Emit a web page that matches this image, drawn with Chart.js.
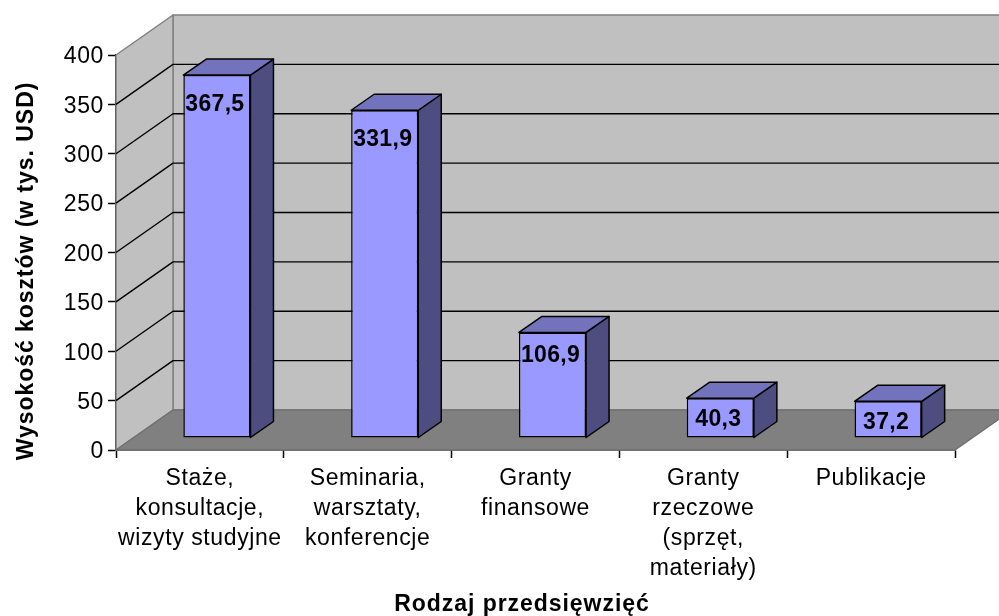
<!DOCTYPE html>
<html>
<head>
<meta charset="utf-8">
<script src="https://cdn.jsdelivr.net/npm/chart.js@4"></script>
<style>
html, body { margin: 0; padding: 0; background: #fff; }
#wrap { width: 999px; height: 616px; }
</style>
</head>
<body>
<div id="wrap"><canvas id="chart" width="999" height="616"></canvas></div>
<script>
const categories = [
    ['Staże,', 'konsultacje,', 'wizyty studyjne'],
    ['Seminaria,', 'warsztaty,', 'konferencje'],
    ['Granty', 'finansowe'],
    ['Granty', 'rzeczowe', '(sprzęt,', 'materiały)'],
    ['Publikacje']
];
const costs = [367.5, 331.9, 106.9, 40.3, 37.2];
const costLabels = ['367,5', '331,9', '106,9', '40,3', '37,2'];
const yTitle = 'Wysokość kosztów (w tys. USD)';
const xTitle = 'Rodzaj przedsięwzięć';

const FONT = '"Liberation Sans", Arial, sans-serif';
// box depth of the whole plot, bar offset inside it, depth of the bars
const wall = { dx: 57, dy: -40 };
const barShift = { dx: 17, dy: -12 };
const barDepth = { dx: 23, dy: -16 };

function poly(ctx, pts, fill, stroke, width) {
    ctx.beginPath();
    pts.forEach((p, i) => i ? ctx.lineTo(p[0], p[1]) : ctx.moveTo(p[0], p[1]));
    ctx.closePath();
    if (fill) { ctx.fillStyle = fill; ctx.fill(); }
    if (stroke) { ctx.strokeStyle = stroke; ctx.lineWidth = width || 1; ctx.lineJoin = 'round'; ctx.stroke(); }
}

const box3d = {
    id: 'box3d',
    afterUpdate(chart) {
        // tick digits sit a bit lower in the reference
        chart.scales.y.getLabelItems().forEach(item => { item.options.translation[1] += 2; });
    },
    beforeDraw(chart) {
        // reference text is a little wider than Liberation Sans
        chart.ctx.letterSpacing = '0.6px';
    },
    beforeDatasetsDraw(chart) {
        const ctx = chart.ctx;
        const { left, right, top, bottom } = chart.chartArea;
        const y = chart.scales.y;
        const { dx, dy } = wall;

        ctx.save();
        // back wall, left wall, floor
        poly(ctx, [[left + dx, top + dy], [right + dx, top + dy], [right + dx, bottom + dy], [left + dx, bottom + dy]], '#c0c0c0', '#808080', 1.5);
        poly(ctx, [[left, top], [left + dx, top + dy], [left + dx, bottom + dy], [left, bottom]], '#c0c0c0', '#808080', 1.5);
        poly(ctx, [[left, bottom], [left + dx, bottom + dy], [right + dx, bottom + dy], [right, bottom]], '#808080', '#707070', 1.5);

        // grid lines run along the left wall and then across the back
        ctx.strokeStyle = '#000';
        ctx.lineWidth = 1.4;
        y.ticks.forEach(t => {
            if (t.value === y.min || t.value === y.max) return;
            const py = y.getPixelForValue(t.value);
            ctx.beginPath();
            ctx.moveTo(left, py);
            ctx.lineTo(left + dx, py + dy);
            ctx.lineTo(right + dx, py + dy);
            ctx.stroke();
        });

        // side and top faces of every bar
        chart.getDatasetMeta(0).data.forEach(bar => {
            const l = bar.x - bar.width / 2 + barShift.dx;
            const r = bar.x + bar.width / 2 + barShift.dx;
            const t = bar.y + barShift.dy;
            const b = bar.base + barShift.dy;
            const d = barDepth;
            poly(ctx, [[r, t], [r + d.dx, t + d.dy], [r + d.dx, b + d.dy], [r, b]], '#4d4d80', '#000', 1.5);
            poly(ctx, [[l, t], [l + d.dx, t + d.dy], [r + d.dx, t + d.dy], [r, t]], '#7373bd', '#000', 1.5);
        });
        ctx.restore();

        // the library's own bars become the front faces
        ctx.save();
        ctx.translate(barShift.dx, barShift.dy);
    },
    afterDatasetsDraw(chart) {
        const ctx = chart.ctx;
        ctx.restore();

        ctx.save();
        ctx.fillStyle = '#000';
        ctx.font = 'bold 23px ' + FONT;
        ctx.textAlign = 'center';
        ctx.textBaseline = 'middle';
        ctx.letterSpacing = '0.3px';
        chart.getDatasetMeta(0).data.forEach((bar, i) => {
            const drop = 20 + costs[i] * 0.027;
            ctx.fillText(costLabels[i], bar.x + barShift.dx - 2, bar.y + barShift.dy + drop);
        });

        ctx.letterSpacing = '0.95px';
        ctx.fillText(xTitle, 522, 605);
        ctx.translate(27, 271);
        ctx.rotate(-Math.PI / 2);
        ctx.fillText(yTitle, 0, 0);
        ctx.restore();
    }
};

new Chart(document.getElementById('chart'), {
    type: 'bar',
    data: {
        labels: categories,
        datasets: [{
            data: costs,
            backgroundColor: '#9999ff',
            borderColor: '#000',
            borderWidth: 1.5,
            borderSkipped: false,
            barPercentage: 0.4,
            categoryPercentage: 1
        }]
    },
    options: {
        responsive: false,
        animation: false,
        layout: { padding: { top: 55, right: 44, left: 0, bottom: 0 } },
        plugins: { legend: { display: false }, tooltip: { enabled: false } },
        scales: {
            x: {
                afterFit: s => { s.height = 166; },
                border: { color: '#000', width: 1.5 },
                grid: { drawOnChartArea: false, color: '#000', tickLength: 8, tickWidth: 1.5 },
                ticks: { color: '#000', font: { family: FONT, size: 23, lineHeight: 1.3 }, padding: 6, maxRotation: 0, autoSkip: false }
            },
            y: {
                min: 0,
                max: 400,
                afterFit: s => { s.width = 116; },
                border: { color: '#000', width: 1.5 },
                grid: { drawOnChartArea: false, color: '#000', tickLength: 8, tickWidth: 1.5 },
                ticks: { stepSize: 50, color: '#000', font: { family: FONT, size: 23 }, padding: 4 }
            }
        }
    },
    plugins: [box3d]
});
</script>
</body>
</html>
